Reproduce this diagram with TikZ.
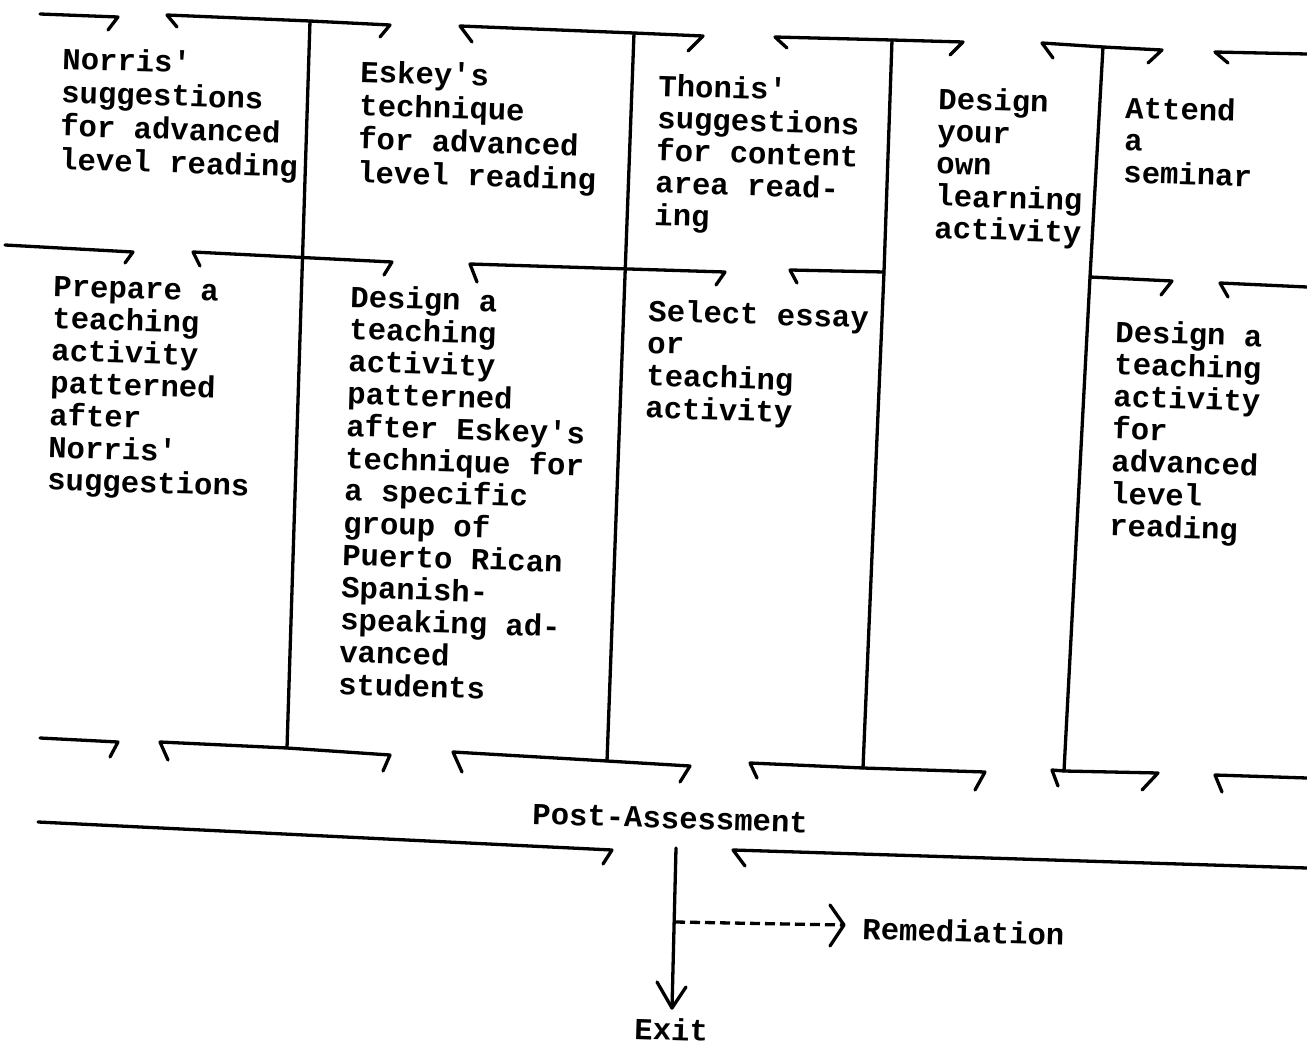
\documentclass[tikz,border=0pt]{standalone}
\usepackage{fontspec}
\setmonofont{Liberation Mono}
\newcommand\txtlines[1]{\begin{tabular}[t]{@{}l@{}}#1\end{tabular}}
\begin{document}
\begin{tikzpicture}[x=1pt,y=-1pt,
  ln/.style={line width=3.3pt, line cap=round, line join=round},
  dashln/.style={ln, line cap=butt, dash pattern=on 10pt off 5pt},
  txt/.style={font=\ttfamily\bfseries\fontsize{30.6}{32.3}\selectfont, inner sep=0pt, anchor=base west, rotate=-1.8},
  txtb/.style={txt, font=\ttfamily\bfseries\fontsize{30.6}{33.5}\selectfont},
]
\useasboundingbox (0,0) rectangle (1307,1046);

% ---------- text nodes ----------
\node[txtb] (norris) at (62,69) {\txtlines{Norris'\\suggestions\\for advanced\\level reading}};
\node[txtb] (eskey) at (360,82) {\txtlines{Eskey's\\technique\\for advanced\\level reading}};
\node[txt] (thonis) at (658,96) {\txtlines{Thonis'\\suggestions\\for content\\area read-\\ing}};
\node[txt] (design) at (938,109) {\txtlines{Design\\your\\own\\learning\\activity}};
\node[txt] (attend) at (1125,118) {\txtlines{Attend\\a\\seminar}};
\node[txt] (prepare) at (53,296) {\txtlines{Prepare a\\teaching\\activity\\patterned\\after\\Norris'\\suggestions}};
\node[txt] (designe) at (350,307) {\txtlines{Design a\\teaching\\activity\\patterned\\after Eskey's\\technique for\\a specific\\group of\\Puerto Rican\\Spanish-\\speaking ad-\\vanced\\students}};
\node[txt] (select) at (648,321) {\txtlines{Select essay\\or\\teaching\\activity}};
\node[txt] (designr) at (1115,342) {\txtlines{Design a\\teaching\\activity\\for\\advanced\\level\\reading}};
\node[txt] (post) at (532,824) {Post-Assessment};
\node[txt] (remed) at (862,939) {Remediation};
\node[txt] (exit) at (634,1039) {Exit};

% ---------- joints of the column dividers ----------
\coordinate (v1t) at (310,21);  \coordinate (v1b) at (287,748);
\coordinate (v2t) at (634,33);  \coordinate (v2b) at (607,761);
\coordinate (v3t) at (892,40);  \coordinate (v3m) at (884,272); \coordinate (v3b) at (863,768);
\coordinate (v4t) at (1103,47); \coordinate (v4m) at (1090,277); \coordinate (v4b) at (1064,771);

% ---------- top row ----------
\draw[ln] (40,14) -- (118,17) -- (108,30);
\draw[ln] (177,27) -- (167,15) -- (v1t) -- (390,25) -- (380,37);
\draw[ln] (472,42) -- (460,26) -- (v2t) -- (703,36) -- (688,51);
\draw[ln] (787,48) -- (775,37) -- (v3t) -- (963,42) -- (950,55);
\draw[ln] (1053,58) -- (1042,43) -- (v4t) -- (1162,50) -- (1148,63);
\draw[ln] (1228,63) -- (1215,52) -- (1307,54);

% ---------- middle row ----------
\draw[ln] (5,245) -- (133,252) -- (125,263);
\draw[ln] (200,266) -- (193,252) -- (392,262) -- (384,275);
\draw[ln] (477,282) -- (470,264) -- (725,272) -- (716,285);
\draw[ln] (797,283) -- (790,270) -- (v3m);
\draw[ln] (v4m) -- (1172,281) -- (1161,295);
\draw[ln] (1228,297) -- (1220,283) -- (1307,287);

% ---------- bottom row ----------
\draw[ln] (40,738) -- (118,742) -- (110,757);
\draw[ln] (168,760) -- (160,742) -- (v1b) -- (390,755) -- (383,771);
\draw[ln] (462,772) -- (453,752) -- (v2b) -- (690,766) -- (680,782);
\draw[ln] (757,778) -- (750,763) -- (v3b) -- (985,772) -- (975,790);
\draw[ln] (1058,786) -- (1052,770) -- (v4b) -- (1158,773) -- (1142,790);
\draw[ln] (1222,792) -- (1215,775) -- (1307,778);

% ---------- column dividers ----------
\draw[ln] (v1t) -- (v1b);
\draw[ln] (v2t) -- (v2b);
\draw[ln] (v3t) -- (v3m) -- (v3b);
\draw[ln] (v4t) -- (v4m) -- (v4b);

% ---------- post-assessment ----------
\draw[ln] (38,822) -- (612,850) -- (603,864);
\draw[ln] (745,866) -- (733,850) -- (1307,868);

\coordinate (out) at (676,848);
\coordinate (fork) at (675,922);
\coordinate (tip) at (672,1008);
\coordinate (rtip) at (844,925);
\draw[ln] (out) -- (tip);
\draw[ln] (657,982) -- (tip) -- (686,987);
\draw[dashln] (fork) -- (rtip);
\draw[ln] (830,905) -- (rtip) -- (830,946);
\end{tikzpicture}
\end{document}
